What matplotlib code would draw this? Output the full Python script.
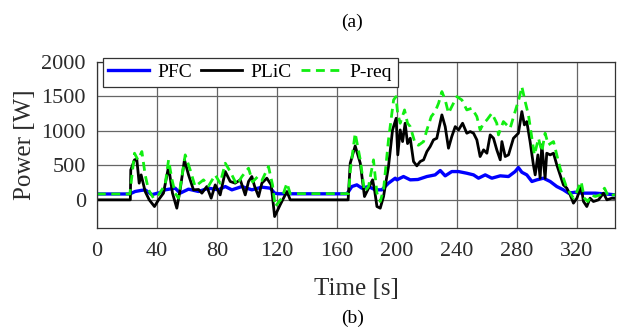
import numpy as np
import matplotlib
matplotlib.use("Agg")
import matplotlib.pyplot as plt

plt.rcParams['font.family'] = ['Liberation Serif', 'DejaVu Serif']

# PFC (fuel cell power)
t_fc = [0, 22, 25.5, 29, 32.2, 36.6, 42.2, 45.5, 52.2, 55.5, 61.1, 67.8, 74.4, 81, 85.6,
        90, 96.7, 103.3, 110, 115.6, 118.5, 121, 166.7, 170, 173.3, 176.7, 181.1, 185.6,
        190, 194.4, 198.9, 200, 204.4, 208.9, 214, 220, 225.5, 228.9, 232.2, 236.6, 241.1,
        246.6, 251.1, 254.4, 258.9, 263.3, 268.9, 274.4, 278.8, 281, 283.3, 286.6, 290,
        293.3, 297.7, 302.2, 306.6, 311, 314.4, 318.8, 323.3, 332.2, 341, 345.5]
p_fc = [85, 85, 121, 135, 145, 75, 106, 145, 169, 97, 155, 121, 169, 145, 193,
        145, 193, 145, 184, 169, 97, 88, 87, 193, 217, 169, 193, 145,
        145, 242, 314, 290, 338, 290, 295, 338, 362, 425, 348, 410, 410,
        386, 362, 314, 362, 314, 348, 338, 410, 468, 400, 362, 266,
        290, 314, 266, 193, 145, 97, 110, 97, 97, 82, 72]

# PLiC (battery power)
t_li = [0, 22.3, 22.6, 25.1, 26.6, 28.2, 29.5, 32.2, 34.9, 38.4, 41.1, 44.4, 47.8, 50.4,
        53.3, 55.5, 58.4, 61.1, 64.4, 67.8, 70, 73.3, 76.2, 78.9, 82.2, 85.6, 88.9, 92.2,
        95.6, 98.9, 101.1, 103.3, 105.1, 107.8, 110, 113.3, 116.2, 118.5, 122.2, 126.7,
        128.9, 167.5, 168.9, 172.2, 175.6, 178.4, 181.1, 183.8, 185.1, 186.7, 188.9, 191.1,
        194.4, 197.1, 199.5, 200.6, 202.2, 203.8, 205.5, 207.1, 208.9, 211.1, 213.3, 215.5,
        217.8, 220, 222.2, 224.4, 226.6, 227.8, 230, 232.2, 234.4, 236.6, 238.9, 241.1,
        243.8, 246.6, 248.9, 251.1, 253.3, 255.5, 257.8, 260, 262.2, 264.4, 266.6, 268.9,
        270, 272.2, 274.4, 277.7, 281, 283.3, 285, 286.6, 288.8, 291, 292.2, 294, 295.5,
        296.6, 298.8, 299.9, 302.2, 304.4, 306.6, 308.8, 311, 313.3, 315.5, 317.7, 320,
        322.8, 324.4, 326.6, 328.8, 331, 334.4, 337.7, 340, 343.3, 346]
p_li = [0, 0, 435, 580, 590, 242, 362, 121, 0, -97, 0, 97, 483, 97,
        -121, 145, 580, 362, 145, 150, 97, 193, 24, 217, 72, 410, 266, 242,
        290, 72, 266, 338, 200, 48, 242, 314, 217, -242, -72, 121,
        0, 0, 531, 782, 531, 48, 169, 290, 145, -97, -121, 48,
        483, 1014, 1183, 652, 1014, 845, 1111, 816, 893, 555, 493, 555,
        580, 700, 773, 870, 893, 1014, 1232, 1062, 749, 918, 1062, 1014,
        1111, 966, 990, 966, 870, 628, 725, 676, 942, 893, 725, 580,
        845, 628, 652, 893, 966, 1280, 1087, 1135, 845, 507, 362, 652, 314,
        797, 314, 676, 652, 676, 507, 362, 217, 169, 72, -48, 24,
        193, -24, -97, 24, -24, 0, 97, 0, 24, 20]

# P-req (requested power)
t_req = [0, 22, 23.3, 25.1, 27.3, 30, 32.2, 34.4, 37.8, 41.1, 45.5, 47.8, 50, 52.2, 54.4,
         56.7, 58.9, 62.2, 65.5, 71.1, 74.4, 78.9, 82.2, 85.6, 88.9, 93.3, 96.7, 101.1,
         103.8, 107.3, 110, 114.4, 117.1, 118.9, 123.3, 126.7, 128.9, 167.8, 169, 172.2,
         175.6, 178.4, 181.1, 184.4, 186.7, 188.9, 191.1, 194.4, 197.8, 199.4, 200.5, 202.2,
         205.1, 207.1, 208.9, 212.2, 214.4, 217.8, 220, 222.9, 225.5, 227.8, 230, 232.2,
         234.4, 236.6, 240, 243.3, 246.6, 250, 253.3, 255.5, 257.8, 260, 263.3, 266.6,
         267.7, 271, 275.5, 278.8, 281.5, 283.3, 285.5, 287.7, 290, 291.7, 294.4, 296.6,
         298.8, 301, 304.4, 306.6, 308.8, 311, 313.3, 315.5, 317.7, 320, 322.8, 325, 327.3,
         329.5, 332.2, 335.5, 338.4, 341, 344.4, 346]
p_req = [85, 85, 338, 676, 580, 700, 362, 145, 24, 72, 217, 580, 300, 97, 24,
         338, 652, 435, 193, 290, 200, 362, 240, 531, 410, 217, 338, 459,
         260, 338, 280, 483, 217, -97, 24, 242, 90, 90, 435, 966,
         580, 120, 193, 580, 97, -24, 145, 870, 1449, 1497, 1256, 1111,
         1304, 1111, 1062, 816, 792, 845, 1014, 1208, 1280, 1401, 1570, 1449,
         1256, 1353, 1497, 1449, 1304, 1329, 1208, 1014, 1111, 1159, 1256, 1111,
         942, 1135, 1038, 1280, 1473, 1642, 1425, 1232, 893, 652, 893, 700,
         966, 797, 845, 652, 459, 314, 169, 97, 24, 121, 266, 24, -24,
         72, 48, 72, 169, 48, 72, 75]

x_ticks = np.arange(0, 321, 40)
y_ticks = np.arange(0, 2001, 500)

fig = plt.figure(figsize=(6.17, 3.33), dpi=100)
ax = fig.add_axes([0.157, 0.315, 0.840, 0.499])

ax.plot(t_fc, p_fc, color='#0000ff', lw=2.4, label='PFC')
ax.plot(t_li, p_li, color='black', lw=2.0, label='PLiC')
ax.plot(t_req, p_req, color='#11ee11', lw=2.0, ls=(0, (3.2, 2)), label='P-req')

ax.set_xlim(0, 345.5)
ax.set_ylim(-410, 2000)
ax.set_xticks(x_ticks)
ax.set_yticks(y_ticks)
ax.grid(True, color='#666666', lw=0.9)
ax.tick_params(direction='in', labelsize=16, colors='#2b2b2b', length=0)
ax.tick_params(axis='x', pad=10)
ax.tick_params(axis='y', pad=8)
for s in ax.spines.values():
    s.set_color('#333333')
    s.set_linewidth(0.9)

ax.set_xlabel('Time [s]', fontsize=18, color='#2b2b2b', labelpad=12)
ax.set_ylabel('Power [W]', fontsize=18, color='#2b2b2b', labelpad=4)

leg = ax.legend(loc='upper left', bbox_to_anchor=(0.011, 1.025), ncol=3, fontsize=14,
                frameon=True, fancybox=False, edgecolor='#333333', framealpha=1,
                handlelength=2.1, handletextpad=0.4, columnspacing=0.5,
                borderpad=0.3, borderaxespad=0)
leg.get_frame().set_linewidth(0.9)

fig.text(0.571, 0.934, '(a)', ha='center', va='center', fontsize=14)
fig.text(0.571, 0.045, '(b)', ha='center', va='center', fontsize=14)

fig.savefig('out.png', dpi=100)
